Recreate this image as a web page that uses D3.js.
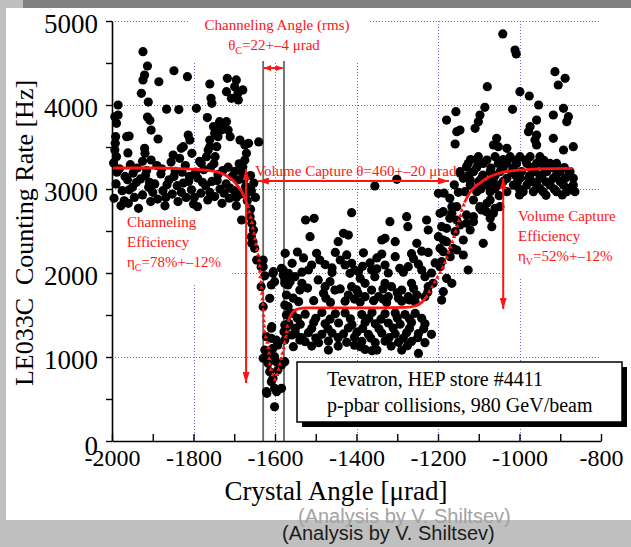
<!DOCTYPE html>
<html>
<head>
<meta charset="utf-8">
<script src="https://cdn.jsdelivr.net/npm/d3@7"></script>
<style>
  body { margin: 0; background: #bfbfbf; }
  svg { display: block; }
</style>
</head>
<body>
<svg id="chart" width="631" height="547"></svg>
<script>
// ---- values: [crystal angle (urad), counting rate (Hz)] ----
var xLabelTicks = [-2000, -1800, -1600, -1400, -1200, -1000, -800];
var yLabelTicks = [0, 1000, 2000, 3000, 4000, 5000];
var gridX = [-1800, -1600, -1400, -1200, -1000];
var gridY = [1000, 2000, 3000, 4000, 5000];

var highLeft = [
  [-1924,4635],[-1913,4464],[-1920,4357],[-1924,4298],[-1928,4139],[-1911,4035],[-1848,4408],[-1815,4337],
  [-1885,4277],[-1866,3950],[-1836,3945],[-1793,3961],[-1913,3856],[-1907,3818],[-1904,3702],[-1887,3595],
  [-1958,3631],[-1985,4000],[-1989,3782],[-1991,3623],[-1985,3881],[-1760,4250],[-1757,4080],[-1755,4020],
  [-1766,3850],[-1751,3742],[-1717,4318],[-1695,4298],[-1699,4218],[-1679,4179],[-1691,4139],[-1707,4080],
  [-1719,4159],[-1690,4060],[-1736,3801],[-1719,3801],[-1731,3762],[-1732,3702],[-1715,3702],[-1748,3663],
  [-1760,3583],[-1740,3623],[-1710,3623],[-1813,3643],[-1809,3583],[-1825,3504],[-1804,3425],[-1640,3560],
  [-1686,3583],[-1665,3544],[-1674,3524],[-1670,3425],[-1674,3345],[-1679,3266],[-1830,3484],[-1850,3405],
  [-1834,3365],[-1764,3464],[-1760,3504],[-1743,3504],[-1768,3385],[-1747,3385],[-1781,3306],[-1920,3484],
  [-1919,3425],[-1904,3345],[-1993,3464],[-1989,3385],[-1964,3623],[-1961,3430],[-1993,3860],[-1992,3545]
];

var bandLeft = [
  [-1996,3310],[-1982,3240],[-1968,3150],[-1990,3060],[-1975,2980],[-1995,2890],[-1978,2800],
  [-1955,3290],[-1948,3190],[-1940,3080],[-1958,2990],[-1945,2900],[-1960,2830],
  [-1925,3330],[-1915,3220],[-1930,3120],[-1910,3020],[-1925,2930],[-1905,2850],[-1935,2770],
  [-1890,3280],[-1880,3180],[-1895,3060],[-1875,2980],[-1888,2880],[-1870,2800],
  [-1855,3320],[-1845,3210],[-1860,3110],[-1840,3040],[-1852,2940],[-1838,2850],
  [-1820,3280],[-1810,3150],[-1825,3070],[-1805,2990],[-1818,2900],[-1800,2820],
  [-1785,3330],[-1775,3230],[-1790,3130],[-1770,3040],[-1782,2950],[-1765,2870],[-1790,2790],
  [-1750,3300],[-1740,3170],[-1755,3090],[-1735,3000],[-1748,2910],[-1730,2830],
  [-1715,3260],[-1705,3150],[-1720,3060],[-1700,2980],[-1712,2890],[-1695,2800],
  [-1688,3300],[-1680,3200],[-1690,3110],[-1672,3030],[-1684,2940],[-1668,2860],
  [-1660,3160],[-1652,3070],[-1658,2980],[-1648,2900],[-1660,2760]
];

var bandLeftExtra = [
  [-1988,3200],[-1962,3110],[-1950,3020],[-1970,2860],[-1938,3250],[-1918,3160],[-1900,2960],[-1908,3080],
  [-1878,3240],[-1865,3050],[-1868,2900],[-1848,3150],[-1830,2960],[-1828,3200],[-1812,3090],[-1795,3200],
  [-1798,2900],[-1778,3080],[-1760,2960],[-1758,3260],[-1742,3100],[-1725,2950],[-1728,3220],[-1710,3010],
  [-1698,3210],[-1695,2900],[-1676,3120],[-1665,2960]
];

var dropPoints = [
  [-1682,2631],[-1661,2670],[-1657,2591],[-1653,2512],[-1658,2432],[-1657,2353],[-1654,2373],[-1650,2294],
  [-1645,2155],[-1629,2155],[-1634,2075],[-1629,2075],[-1625,1966],[-1605,1996],[-1604,2016],[-1584,2056],
  [-1580,2036],[-1580,1976],[-1576,1917],[-1634,1837],[-1609,1857],[-1601,1897],[-1613,1699],[-1629,1599],
  [-1608,1361],[-1609,1342],[-1621,1242],[-1609,1222],[-1597,1202],[-1593,1143],[-1625,1083],[-1617,1043],
  [-1605,1103],[-1629,985],[-1617,925],[-1601,1004],[-1597,944],[-1584,905],[-1576,944],[-1613,825],
  [-1593,845],[-1605,746],[-1609,706],[-1621,587],[-1620,567],[-1601,627],[-1596,587],[-1584,627],
  [-1601,408],[-1576,1381],[-1578,1301],[-1576,1202],[-1572,1500],[-1568,1599],[-1576,1619],[-1572,1738],
  [-1568,1857]
];

var valleyUpper = [
  [-1355,3036],[-1301,3115],[-1412,2718],[-1525,2631],[-1504,2651],[-1514,2432],[-1445,2373],[-1432,2472],
  [-1420,2452],[-1338,2393],[-1330,2413],[-1318,2611],[-1305,2373],[-1277,2670],[-1274,2551],[-1252,2353],
  [-1228,2631],[-1224,2512],[-1199,2949],[-1195,2710],[-1191,2551],[-1199,2432],[-1187,2393],[-1195,2294],
  [-1185,2950]
];

var valleyMid = [
  [-1575,2234],[-1545,2250],[-1452,2245],[-1424,2215],[-1383,2240],[-1338,2225],[-1265,2230],[-1224,2245],
  [-1558,2115],[-1477,2100],[-1367,2120],[-1330,2095],[-1248,2105],[-1207,2120],
  [-1534,2010],[-1460,2005],[-1395,2015],[-1322,2000],[-1285,2010],[-1216,2000],
  [-1542,1659],[-1505,1670],[-1464,1650],[-1428,1665],[-1391,1655],[-1358,1670],[-1326,1650],[-1289,1665],[-1256,1655],
  [-1498,2234],[-1490,2155],[-1510,2095],[-1518,2036],[-1440,2155],[-1428,2095],[-1412,2115],[-1404,2036],
  [-1416,1996],[-1305,2194],[-1294,2056],[-1273,2075],[-1363,2036],[-1391,1937],[-1379,1877],[-1355,1956],
  [-1240,2036],[-1232,1956],[-1224,1837],[-1212,1877],[-1567,1996],[-1576,1877],[-1563,1897],[-1551,1956],
  [-1534,1877],[-1539,1797],[-1494,1917],[-1477,1837],[-1465,1897],[-1453,1797],[-1481,1758],[-1412,1837],
  [-1420,1738],[-1396,1758],[-1379,1718],[-1363,1797],[-1346,1718],[-1330,1877],[-1314,1837],[-1289,1797],
  [-1265,1877],[-1322,1718],[-1297,1699],[-1273,1718],[-1252,1738],[-1232,1718],
  [-1520,1820],[-1440,1810],[-1400,1800],[-1335,1810],[-1300,1765],[-1260,1815],[-1225,1775],[-1555,1700],
  [-1475,1700],[-1405,1690],[-1335,1690],[-1270,1680],[-1530,2180],[-1460,2060],[-1385,2080],[-1350,2180],
  [-1260,2170],[-1240,2260],[-1350,2050]
];

var valleyLow = [
  [-1558,1520],[-1526,1510],[-1485,1530],[-1452,1515],[-1428,1525],[-1387,1505],[-1362,1530],[-1330,1515],
  [-1305,1525],[-1281,1505],[-1256,1520],
  [-1566,1400],[-1538,1390],[-1505,1410],[-1477,1395],[-1444,1405],[-1411,1385],[-1379,1410],[-1354,1395],
  [-1322,1405],[-1293,1390],[-1265,1410],[-1232,1395],
  [-1550,1281],[-1518,1290],[-1485,1270],[-1460,1285],[-1432,1275],[-1399,1295],[-1371,1270],[-1338,1285],
  [-1305,1275],[-1277,1290],[-1248,1280],[-1216,1270],
  [-1526,1182],[-1493,1170],[-1469,1190],[-1424,1175],[-1387,1185],[-1354,1170],[-1330,1190],[-1297,1175],
  [-1265,1185],[-1232,1170],
  [-1469,1083],[-1379,1090],[-1362,1075],[-1289,1083],[-1248,1043],[-1391,1123],[-1350,1083],
  [-1559,1262],[-1571,1361],[-1539,1202],[-1555,1123],
  [-1545,1460],[-1500,1460],[-1465,1450],[-1415,1455],[-1370,1460],[-1340,1450],[-1300,1465],[-1270,1455],
  [-1240,1460],[-1550,1340],[-1510,1340],[-1470,1335],[-1420,1345],[-1385,1340],[-1345,1335],[-1310,1345],
  [-1270,1340],[-1235,1335],[-1535,1230],[-1500,1225],[-1445,1230],[-1405,1235],[-1365,1225],[-1320,1230],
  [-1285,1225],[-1250,1230],[-1510,1130],[-1445,1130],[-1405,1140],[-1315,1130],[-1275,1135]
];

var risePoints = [
  [-1187,2730],[-1171,2651],[-1179,2532],[-1158,2492],[-1146,2572],[-1130,2691],[-1113,2611],[-1097,2770],
  [-1072,2651],[-1060,2770],[-1089,2353],[-1126,2036],[-1138,2214],[-1163,2294],[-1179,2373],[-1187,2254],
  [-1191,2135],[-1179,1936],[-1166,1877],[-1187,1778],[-1191,1678],[-1166,2789],[-1154,2631],[-1130,2592],
  [-1113,2670],[-1093,2750],[-1080,2830],[-1064,2711],[-1048,2789],[-1068,2551],[-1121,2512],[-1138,2393],
  [-1154,2274],[-1170,2194],[-1195,2075]
];

var highRight = [
  [-1041,4846],[-1011,4655],[-1008,4607],[-913,4397],[-888,4318],[-905,4238],[-1079,4218],[-999,4159],
  [-976,4107],[-953,4000],[-1017,3948],[-1156,3921],[-1179,3821],[-1146,3702],[-1158,3536],[-1085,3972],
  [-1097,3881],[-1101,3802],[-1109,3722],[-892,3960],[-917,3881],[-880,3861],[-884,3802],[-958,3821],
  [-974,3742],[-978,3682],[-958,3643],[-962,3583],[-958,3524],[-917,3603],[-1056,3603],[-1052,3504],
  [-1031,3484],[-1064,3524],[-868,3504],[-892,3464],[-1154,3682],[-1146,3190],[-1130,3266],[-1105,3345],
  [-1121,3107]
];

var bandRight = [
  [-1101,3385],[-1060,3385],[-1023,3385],[-999,3385],[-974,3385],[-950,3385],
  [-1126,3305],[-1089,3305],[-1052,3305],[-1031,3305],[-1007,3305],[-982,3305],[-958,3305],[-925,3305],[-909,3305],
  [-1146,3206],[-1113,3206],[-1072,3206],[-1048,3206],[-1019,3206],[-995,3206],[-962,3206],[-933,3206],[-901,3206],[-876,3206],
  [-1138,3127],[-1093,3127],[-1064,3127],[-1031,3127],[-999,3127],[-978,3127],[-950,3127],[-917,3127],[-888,3127],[-868,3127],
  [-1121,3047],[-1081,3047],[-1052,3047],[-1015,3047],[-982,3047],[-958,3047],[-925,3047],[-892,3047],[-868,3047],
  [-1134,2968],[-1105,2968],[-1072,2968],[-1031,2968],[-991,2968],[-966,2968],[-942,2968],[-909,2968],[-884,2968],[-864,2968],
  [-1171,2889],[-1154,2790],[-1166,2710],[-1113,2869],[-1097,2790],[-1072,2869],[-1081,2730]
];

var bandRightExtra = [
  [-1120,3350],[-1080,3345],[-1040,3350],[-1010,3340],[-985,3345],[-940,3340],[-1105,3255],[-1070,3250],
  [-1040,3255],[-1015,3250],[-970,3255],[-940,3255],[-915,3250],[-890,3255],[-1125,3165],[-1090,3165],
  [-1060,3160],[-1010,3165],[-975,3160],[-945,3165],[-910,3165],[-880,3160],[-1100,3090],[-1070,3085],
  [-1040,3090],[-1005,3085],[-970,3090],[-935,3085],[-900,3090],[-1095,3000],[-1060,3005],[-1000,3000],
  [-950,3005],[-915,3000],[-875,3010],[-1050,2920],[-1000,2930],[-935,2925],[-895,2930],[-1150,2960],
  [-1160,3050]
];

// fitted curve, read as points; "dotted" parts are drawn with small triangles
var fitSolidLeft = [[-2000,3250],[-1900,3250],[-1820,3240],[-1770,3225],[-1740,3200],[-1720,3160],[-1705,3110],[-1692,3040],[-1682,2970],[-1673,2880],[-1666,2790]];
var fitDottedDrop = [[-1666,2790],[-1658,2630],[-1652,2480],[-1645,2300],[-1639,2150],[-1635,1900],[-1631,1720],[-1627,1400],[-1624,1260],[-1617,1140],[-1612,890],[-1605,780],[-1600,730],[-1593,820],[-1585,980],[-1580,1080],[-1573,1260],[-1568,1420]];
var fitSolidMid = [[-1568,1420],[-1562,1490],[-1555,1540],[-1545,1570],[-1520,1585],[-1450,1585],[-1350,1585],[-1280,1590],[-1255,1610],[-1240,1650],[-1228,1720]];
var fitDottedRise = [[-1228,1720],[-1215,1830],[-1200,1960],[-1187,2080],[-1175,2230],[-1163,2400],[-1152,2560],[-1143,2720],[-1135,2840]];
var fitSolidRight = [[-1135,2840],[-1125,2930],[-1113,3010],[-1097,3070],[-1080,3130],[-1060,3170],[-1040,3200],[-1000,3225],[-950,3240],[-870,3245]];

// annotation values
var channelLines = [-1629, -1578];
var channelArrow = { from: -1627, to: -1581, rate: 4440 };
var captureArrow = { from: -1642, to: -1173, rate: 3095 };
var chEffArrow = { angle: -1671, from: 3238, to: 690 };
var vcEffArrow = { angle: -1040, from: 3127, to: 1571 };

var red = "#ff1414";
var serif = "'Liberation Serif', 'Times New Roman', serif";

var svg = d3.select("#chart");
var x = d3.scaleLinear().domain([-2000, -800]).range([112, 601]);
var y = d3.scaleLinear().domain([0, 5000]).range([441, 21]);

// slide background
svg.append("rect").attr("width", 631).attr("height", 547).attr("fill", "#bfbfbf");
svg.append("rect").attr("x", 23).attr("width", 608).attr("height", 8).attr("fill", "#808080");
svg.append("rect").attr("x", 6).attr("y", 8).attr("width", 625).attr("height", 512).attr("fill", "#fff");

// dotted grid
var grid = svg.append("g")
  .attr("stroke", "#6b6bf2").attr("stroke-width", 1).attr("stroke-dasharray", "1,2");
grid.selectAll(".gx").data(gridX).enter().append("line")
  .attr("x1", function(d) { return Math.round(x(d)) + 0.5; })
  .attr("x2", function(d) { return Math.round(x(d)) + 0.5; })
  .attr("y1", y(5000)).attr("y2", y(0));
grid.selectAll(".gy").data(gridY).enter().append("line")
  .attr("x1", x(-2000)).attr("x2", x(-800))
  .attr("y1", function(d) { return Math.round(y(d)) + 0.5; })
  .attr("y2", function(d) { return Math.round(y(d)) + 0.5; });

// white text boxes that hide the grid behind labels
var blanks = [[189, 9, 179, 52], [115, 205, 117, 80], [504, 200, 127, 77]];
svg.selectAll(".blank").data(blanks).enter().append("rect")
  .attr("x", function(d) { return d[0]; }).attr("y", function(d) { return d[1]; })
  .attr("width", function(d) { return d[2]; }).attr("height", function(d) { return d[3]; })
  .attr("fill", "#fff");

// gray channeling-angle lines
svg.selectAll(".chline").data(channelLines).enter().append("line")
  .attr("x1", function(d) { return x(d); }).attr("x2", function(d) { return x(d); })
  .attr("y1", y(4524)).attr("y2", y(0))
  .attr("stroke", "#666").attr("stroke-width", 1.8);

// data points
var allPoints = [].concat(highLeft, bandLeft, bandLeftExtra, dropPoints, valleyUpper, valleyMid,
  valleyLow, risePoints, highRight, bandRight, bandRightExtra);
svg.append("g").selectAll("circle").data(allPoints).enter().append("circle")
  .attr("cx", function(d) { return x(d[0]); })
  .attr("cy", function(d) { return y(d[1]); })
  .attr("r", 4.6)
  .attr("fill", "#000");

// fit curve
var line = d3.line().curve(d3.curveMonotoneX)
  .x(function(d) { return x(d[0]); }).y(function(d) { return y(d[1]); });
var lineAny = d3.line().curve(d3.curveCatmullRom)
  .x(function(d) { return x(d[0]); }).y(function(d) { return y(d[1]); });

[fitSolidLeft, fitSolidMid, fitSolidRight].forEach(function(seg) {
  svg.append("path").attr("d", line(seg))
    .attr("fill", "none").attr("stroke", red).attr("stroke-width", 2.8);
});

[fitDottedDrop, fitDottedRise].forEach(function(seg) {
  var p = svg.append("path").attr("d", lineAny(seg)).attr("fill", "none").attr("stroke", "none");
  var node = p.node(), len = node.getTotalLength();
  var marks = [];
  for (var s = 0; s <= len; s += 5.5) marks.push(node.getPointAtLength(s));
  svg.append("g").selectAll("path").data(marks).enter().append("path")
    .attr("d", d3.symbol().type(d3.symbolTriangle).size(9))
    .attr("transform", function(d) { return "translate(" + d.x + "," + d.y + ")"; })
    .attr("fill", red);
});

// arrow markers
var defs = svg.append("defs");
function marker(id, w, h) {
  defs.append("marker").attr("id", id)
    .attr("markerUnits", "userSpaceOnUse")
    .attr("markerWidth", w).attr("markerHeight", h)
    .attr("refX", w).attr("refY", h / 2)
    .attr("orient", "auto-start-reverse")
    .append("path").attr("d", "M0,0L" + w + "," + (h / 2) + "L0," + h + "Z").attr("fill", red);
}
marker("arr", 11, 7);
marker("arrSmall", 7, 6);

function arrow(x1, y1, x2, y2, m) {
  svg.append("line")
    .attr("x1", x1).attr("y1", y1).attr("x2", x2).attr("y2", y2)
    .attr("stroke", red).attr("stroke-width", 2)
    .attr("marker-start", "url(#" + m + ")").attr("marker-end", "url(#" + m + ")");
}
arrow(x(channelArrow.from), y(channelArrow.rate), x(channelArrow.to), y(channelArrow.rate), "arrSmall");
arrow(x(captureArrow.from), y(captureArrow.rate), x(captureArrow.to), y(captureArrow.rate), "arr");
arrow(x(chEffArrow.angle), y(chEffArrow.from), x(chEffArrow.angle), y(chEffArrow.to), "arr");
arrow(x(vcEffArrow.angle), y(vcEffArrow.from), x(vcEffArrow.angle), y(vcEffArrow.to), "arr");

// axes
var xAxis = d3.axisBottom(x)
  .tickValues(d3.range(-2000, -799, 100))
  .tickSizeInner(-7).tickSizeOuter(0).tickPadding(8)
  .tickFormat(function(d) { return d % 200 === 0 ? String(d) : ""; });
var gx = svg.append("g").attr("transform", "translate(0," + y(0) + ")").call(xAxis);
gx.selectAll("text").attr("font-family", serif).attr("font-size", 24).attr("fill", "#000");

var yAxis = d3.axisLeft(y)
  .tickValues(d3.range(0, 5001, 500))
  .tickSizeInner(6).tickSizeOuter(0).tickPadding(8)
  .tickFormat(function(d) { return d % 1000 === 0 ? String(d) : ""; });
var gy = svg.append("g").attr("transform", "translate(" + x(-2000) + ",0)").call(yAxis);
gy.selectAll("text").attr("font-family", serif).attr("font-size", 27).attr("fill", "#000")
  .attr("dy", function(d) { return d === 0 ? "0.5em" : "0.42em"; });

[gx, gy].forEach(function(g) {
  g.select(".domain").attr("stroke", "#000").attr("stroke-width", 1.6);
  g.selectAll(".tick line").attr("stroke", "#000").attr("stroke-width", 1.4);
});

// axis titles
svg.append("text")
  .attr("transform", "translate(33,233) rotate(-90)")
  .attr("text-anchor", "middle").attr("font-family", serif).attr("font-size", 26)
  .text("LE033C\u00a0 Counting Rate [Hz]");
svg.append("text")
  .attr("x", 336).attr("y", 500)
  .attr("text-anchor", "middle").attr("font-family", serif).attr("font-size", 27)
  .text("Crystal Angle [\u03bcrad]");

// red annotations
function redText(xp, yp, anchor) {
  return svg.append("text").attr("x", xp).attr("y", yp).attr("text-anchor", anchor)
    .attr("font-family", serif).attr("font-size", 15).attr("fill", red);
}
function subText(t, main, sub, rest) {
  t.append("tspan").text(main);
  t.append("tspan").attr("font-size", 10).attr("dy", 4).text(sub);
  t.append("tspan").attr("dy", -4).text(rest);
}
redText(277, 30, "middle").text("Channeling Angle (rms)");
subText(redText(274, 50, "middle"), "\u03b8", "C", "=22+\u20134 \u03bcrad");
redText(255, 176, "start").text("Volume Capture \u03b8=460+\u201320 \u03bcrad");

redText(127, 227, "start").text("Channeling");
redText(127, 247, "start").text("Efficiency");
subText(redText(127, 267, "start"), "\u03b7", "C", "=78%+\u201312%");

redText(518, 221, "start").text("Volume Capture");
redText(518, 241, "start").text("Efficiency");
subText(redText(518, 261, "start"), "\u03b7", "V", "=52%+\u201312%");

// info box with shadow
svg.append("rect").attr("x", 302).attr("y", 367).attr("width", 325).attr("height", 60).attr("fill", "#000");
svg.append("rect").attr("x", 297).attr("y", 362).attr("width", 325).attr("height", 60)
  .attr("fill", "#fff").attr("stroke", "#000").attr("stroke-width", 1.5);
svg.append("text").attr("x", 327).attr("y", 386).attr("font-family", serif).attr("font-size", 20)
  .text("Tevatron, HEP store #4411");
svg.append("text").attr("x", 327).attr("y", 412).attr("font-family", serif).attr("font-size", 20)
  .text("p-pbar collisions, 980 GeV/beam");

// credit lines (the slide shows the caption twice, offset)
svg.append("text").attr("x", 298).attr("y", 523)
  .attr("font-family", "'Liberation Sans', Arial, sans-serif").attr("font-size", 20).attr("fill", "#a3a3a3")
  .text("(Analysis by V. Shiltsev)");
svg.append("text").attr("x", 282).attr("y", 540)
  .attr("font-family", "'Liberation Sans', Arial, sans-serif").attr("font-size", 20).attr("fill", "#1c1c1c")
  .text("(Analysis by V. Shiltsev)");
</script>
</body>
</html>
